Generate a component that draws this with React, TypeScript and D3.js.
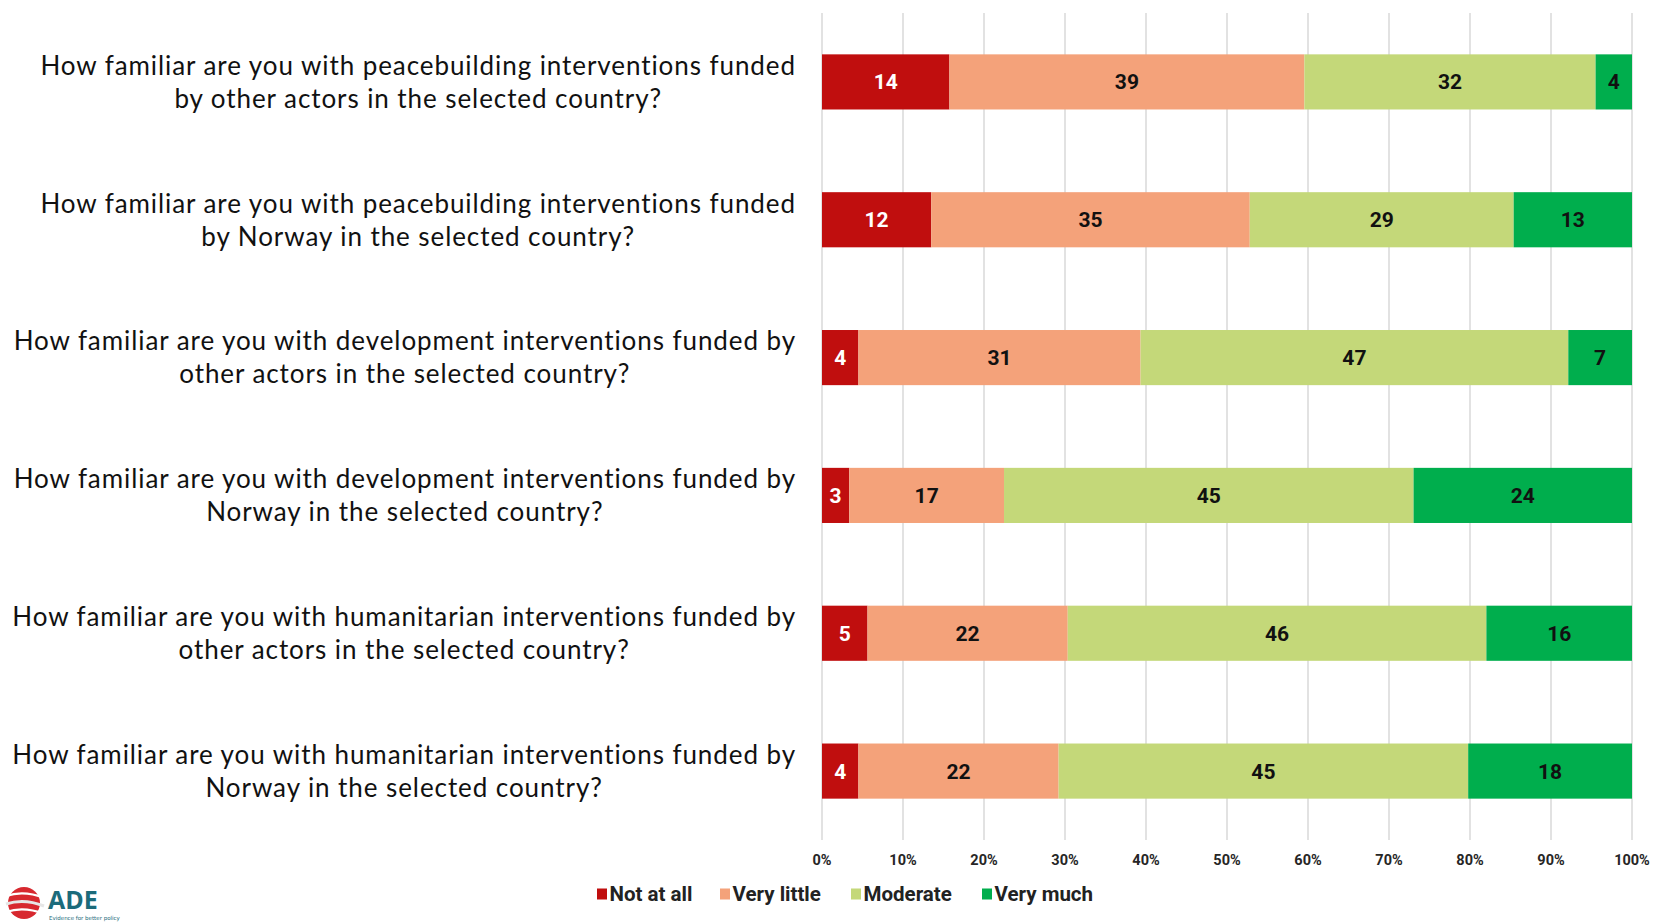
import React, { useEffect, useRef } from "react";
import * as d3 from "d3";

const questions: string[][] = [
  ["How familiar are you with peacebuilding interventions funded", "by other actors in the selected country?"],
  ["How familiar are you with peacebuilding interventions funded", "by Norway in the selected country?"],
  ["How familiar are you with development interventions funded by", "other actors in the selected country?"],
  ["How familiar are you with development interventions funded by", "Norway in the selected country?"],
  ["How familiar are you with humanitarian interventions funded by", "other actors in the selected country?"],
  ["How familiar are you with humanitarian interventions funded by", "Norway in the selected country?"],
];

const seriesNames = ["Not at all", "Very little", "Moderate", "Very much"];
const seriesColors = ["#C00E0E", "#F4A27A", "#C4D879", "#00AE4D"];
const labelColors = ["#FFFFFF", "#111111", "#111111", "#111111"];

const notAtAll = [14, 12, 4, 3, 5, 4];
const veryLittle = [39, 35, 31, 17, 22, 22];
const moderate = [32, 29, 47, 45, 46, 45];
const veryMuch = [4, 13, 7, 24, 16, 18];

const tickValues = [0, 10, 20, 30, 40, 50, 60, 70, 80, 90, 100];

const W = 1653;
const H = 923;
const NARROW = "Roboto, 'Liberation Sans', sans-serif";

export default function App() {
  const ref = useRef<SVGSVGElement>(null);

  useEffect(() => {
    const svg = d3.select(ref.current);
    svg.selectAll("*").remove();

    const x0 = 822, x1 = 1632, yTop = 13, yBot = 840;
    const x = d3.scaleLinear().domain([0, 100]).range([x0, x1]);
    const y = d3.scaleBand<number>().domain(d3.range(questions.length)).range([yTop, yBot]).paddingInner(0.6).paddingOuter(0.3);

    const rows = questions.map((_, i) => {
      const vals = [notAtAll[i], veryLittle[i], moderate[i], veryMuch[i]];
      const total = d3.sum(vals);
      let cum = 0;
      return vals.map((v, k) => {
        const start = (cum / total) * 100;
        cum += v;
        return { i, k, v, start, end: (cum / total) * 100 };
      });
    });

    svg.append("g")
      .selectAll("line")
      .data(tickValues)
      .join("line")
      .attr("x1", (d) => x(d)).attr("x2", (d) => x(d))
      .attr("y1", yTop).attr("y2", yBot)
      .attr("stroke", "#D9D9D9").attr("stroke-width", 1.5);

    const segs = rows.flat();
    svg.append("g")
      .selectAll("rect")
      .data(segs)
      .join("rect")
      .attr("x", (d) => x(d.start))
      .attr("width", (d) => x(d.end) - x(d.start))
      .attr("y", (d) => y(d.i)!)
      .attr("height", y.bandwidth())
      .attr("fill", (d) => seriesColors[d.k]);

    svg.append("g")
      .selectAll("text")
      .data(segs)
      .join("text")
      .attr("x", (d) => (x(d.start) + x(d.end)) / 2)
      .attr("y", (d) => y(d.i)! + y.bandwidth() / 2)
      .attr("dy", "0.36em")
      .attr("text-anchor", "middle")
      .attr("font-family", NARROW)
      .attr("font-weight", "bold")
      .attr("font-size", 21)
      .attr("fill", (d) => labelColors[d.k])
      .text((d) => String(d.v));

    svg.append("g")
      .selectAll("text")
      .data(tickValues)
      .join("text")
      .attr("x", (d) => x(d))
      .attr("y", 860)
      .attr("dy", "0.36em")
      .attr("text-anchor", "middle")
      .attr("font-family", NARROW)
      .attr("font-weight", "bold")
      .attr("font-size", 14.5)
      .attr("fill", "#262626")
      .text((d) => d + "%");

    // category labels
    const right = 796;
    const targetW = 756;
    const lab = svg.append("g");
    const probe = lab.append("text")
      .attr("font-family", "Lato, 'Open Sans', sans-serif")
      .attr("font-size", 26)
      .text(questions[0][0]);
    const pw = (probe.node() as SVGTextElement).getComputedTextLength();
    const spacing = (targetW - pw) / questions[0][0].length;
    probe.remove();

    questions.forEach((lines, i) => {
      const cy = y(i)! + y.bandwidth() / 2;
      const g = lab.append("g");
      const texts = lines.map((ln, j) =>
        g.append("text")
          .attr("y", cy + (j - (lines.length - 1) / 2) * 33)
          .attr("dy", "0.36em")
          .attr("text-anchor", "middle")
          .attr("font-family", "Lato, 'Open Sans', sans-serif")
          .attr("font-size", 26)
          .attr("letter-spacing", spacing)
          .attr("fill", "#111111")
          .text(ln)
      );
      const maxW = d3.max(texts, (t) => (t.node() as SVGTextElement).getComputedTextLength()) || 0;
      texts.forEach((t) => t.attr("x", right - maxW / 2));
    });

    // legend
    const legendX = [597, 720, 851, 982];
    const leg = svg.append("g");
    seriesNames.forEach((name, k) => {
      leg.append("rect")
        .attr("x", legendX[k]).attr("y", 888.5)
        .attr("width", 10).attr("height", 11)
        .attr("fill", seriesColors[k]);
      leg.append("text")
        .attr("x", legendX[k] + 12.5).attr("y", 894)
        .attr("dy", "0.36em")
        .attr("font-family", NARROW)
        .attr("font-weight", "bold")
        .attr("font-size", 20.5)
        .attr("fill", "#222222")
        .text(name);
    });

    // logo
    const logo = svg.append("g");
    logo.append("circle").attr("cx", 24).attr("cy", 903).attr("r", 16).attr("fill", "#D7282F");
    [896, 904, 912].forEach((yy, j) => {
      logo.append("path")
        .attr("d", `M6,${yy} Q24,${yy - 6} 44,${yy + 2}`)
        .attr("stroke", j === 1 ? "#E6E6E6" : "#FFFFFF").attr("stroke-width", j === 1 ? 3 : 2.2).attr("fill", "none");
    });
    logo.append("text")
      .attr("x", 48).attr("y", 909)
      .attr("font-family", "'Open Sans', sans-serif")
      .attr("font-weight", "bold")
      .attr("font-size", 25)
      .attr("fill", "#1B6B7B")
      .text("ADE");
    logo.append("text")
      .attr("x", 49).attr("y", 920)
      .attr("font-family", "'DejaVu Sans', sans-serif")
      .attr("font-size", 5.5)
      .attr("fill", "#1B6B7B")
      .text("Evidence for better policy");
  }, []);

  return (
    <svg
      ref={ref}
      width={W}
      height={H}
      style={{ position: "absolute", left: 0, top: 0, background: "#FFFFFF" }}
    />
  );
}
